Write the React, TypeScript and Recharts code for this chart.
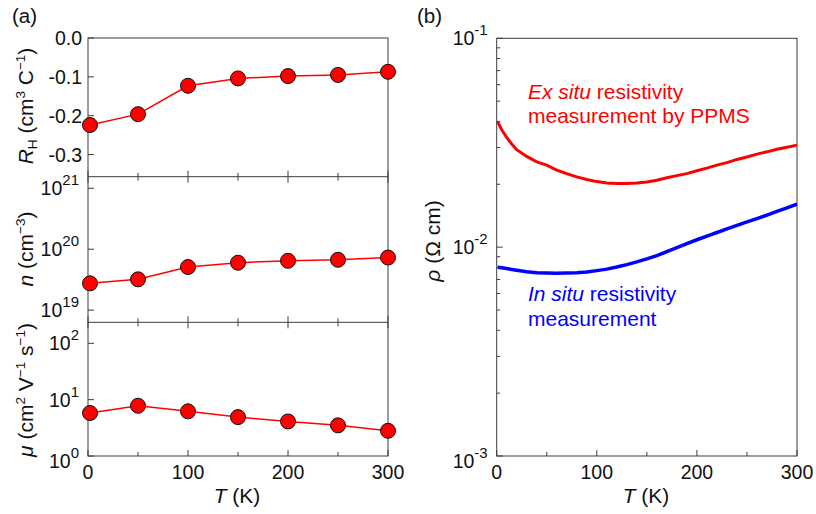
import React from 'react';
import { LineChart, Line, XAxis, YAxis } from 'recharts';

// ---------- data ----------
const hallT = [2, 50, 100, 150, 200, 250, 300];
const hallRH = [-0.224, -0.196, -0.123, -0.104, -0.098, -0.095, -0.087];
const carrierN = [2.75e19, 3.2e19, 5.1e19, 6.0e19, 6.45e19, 6.7e19, 7.3e19];
const mobilityMu = [5.8, 7.8, 6.2, 4.9, 4.1, 3.5, 2.8];

const leftXTicks = [0, 50, 100, 150, 200, 250, 300];
const rhTicks = [0, -0.1, -0.2, -0.3];
const nTicks = [1e19, 1e20, 1e21];
const muTicks = [1, 10, 100];

const rhoT = [1, 5, 10, 15, 20, 30, 40, 50, 60, 70, 80, 90, 100, 110, 120, 130, 140, 150, 160, 170, 180, 190, 200, 210, 220, 230, 240, 250, 260, 270, 280, 290, 300];
const rhoExSitu = [0.0398, 0.0365, 0.0335, 0.0312, 0.0293, 0.0272, 0.0256, 0.0247, 0.0234, 0.0225, 0.0217, 0.0211, 0.0206, 0.0203, 0.0202, 0.0202, 0.0203, 0.0205, 0.0209, 0.0215, 0.022, 0.0225, 0.0232, 0.0239, 0.0247, 0.0254, 0.0263, 0.027, 0.0279, 0.0286, 0.0294, 0.0301, 0.0308];
const rhoInSitu = [0.00802, 0.00797, 0.0079, 0.00782, 0.00775, 0.00763, 0.00755, 0.00752, 0.0075, 0.00752, 0.00755, 0.0076, 0.00772, 0.00785, 0.00803, 0.00825, 0.0085, 0.00878, 0.0091, 0.00952, 0.00995, 0.0104, 0.01085, 0.0113, 0.01175, 0.01222, 0.0127, 0.0132, 0.0137, 0.01425, 0.01482, 0.01543, 0.01607];

const rightXTicks = [0, 50, 100, 150, 200, 250, 300];
const rhoTicks = [0.001, 0.002, 0.003, 0.004, 0.005, 0.006, 0.007, 0.008, 0.009, 0.01, 0.02, 0.03, 0.04, 0.05, 0.06, 0.07, 0.08, 0.09, 0.1];

// ---------- layout ----------
const W = 816;
const H = 514;
const FONT = '"Liberation Sans", Arial, Helvetica, sans-serif';
const AXIS = '#3c3c3c';
const TXT = '#111';
const AX_W = 40;
const AX_H = 20;
const TITLE_FS = 21;

const LX0 = 88;
const LX1 = 388;
const P1T = 38;
const P1B = 176.7;
const P2T = 176.7;
const P2B = 322.3;
const P3T = 322.3;
const P3B = 456;

const RX0 = 496.7;
const RX1 = 797;
const RT = 38.3;
const RB = 456;

const hallRows = hallT.map((t, i) => ({ T: t, rh: hallRH[i], n: carrierN[i], mu: mobilityMu[i] }));
const rhoRows = rhoT.map((t, i) => ({ T: t, ex: rhoExSitu[i], ins: rhoInSitu[i] }));

const isDecade = (v: number) => Math.abs(Math.log10(v) - Math.round(Math.log10(v))) < 1e-6;

function XTick(props: any) {
  const { x, y, payload, dir, labels } = props;
  const v = payload.value;
  const major = v % 100 === 0;
  const len = major ? 6 : 4;
  const y2 = dir === 'up' ? y - len : y + len;
  return (
    <g>
      <line x1={x} x2={x} y1={y} y2={y2} stroke={AXIS} strokeWidth={1} />
      {labels && major ? (
        <text x={x} y={y + 23} textAnchor="middle" fontSize={19.5} fontFamily={FONT} fill={TXT}>
          {v}
        </text>
      ) : null}
    </g>
  );
}

function LinYTick(props: any) {
  const { x, y, payload } = props;
  const v = payload.value;
  return (
    <g>
      <line x1={x} x2={x + 6} y1={y} y2={y} stroke={AXIS} strokeWidth={1} />
      <text x={x - 6} y={y + 7} textAnchor="end" fontSize={19.5} fontFamily={FONT} fill={TXT}>
        {v.toFixed(1)}
      </text>
    </g>
  );
}

function LogYTick(props: any) {
  const { x, y, payload, shiftFirst } = props;
  const v = payload.value;
  const dec = isDecade(v);
  const len = dec ? 6 : 3.5;
  const e = Math.round(Math.log10(v));
  const dy = shiftFirst && props.index === 0 ? 5 : 0;
  const expText = e < 0 ? '-' + String(-e) : String(e);
  return (
    <g>
      <line x1={x} x2={x + len} y1={y} y2={y} stroke={AXIS} strokeWidth={1} />
      {dec ? (
        <text x={x - 9} y={y + 7 + dy} textAnchor="end" fontSize={19.5} fontFamily={FONT} fill={TXT}>
          10
          <tspan dy={-10} fontSize={15}>
            {expText}
          </tspan>
        </text>
      ) : null}
    </g>
  );
}

const dotStyle = { r: 7.5, fill: '#ff0000', stroke: '#111', strokeWidth: 1 };

function Layer({ children }: { children: React.ReactNode }) {
  return <div style={{ position: 'absolute', left: 0, top: 0 }}>{children}</div>;
}

export default function App() {
  const sup = 13.5;
  return (
    <div style={{ position: 'absolute', left: 0, top: 0, width: W, height: H, background: '#fff', overflow: 'hidden' }}>
      <svg width={W} height={H} style={{ position: 'absolute', left: 0, top: 0 }} fontFamily={FONT}>
        {/* frames */}
        <rect x={LX0} y={P1T} width={LX1 - LX0} height={P3B - P1T} fill="none" stroke={AXIS} strokeWidth={1} />
        <line x1={LX0} x2={LX1} y1={P1B} y2={P1B} stroke={AXIS} strokeWidth={1} />
        <line x1={LX0} x2={LX1} y1={P2B} y2={P2B} stroke={AXIS} strokeWidth={1} />
        <rect x={RX0} y={RT} width={RX1 - RX0} height={RB - RT} fill="none" stroke={AXIS} strokeWidth={1} />

        {/* panel letters */}
        <text x={12} y={23} fontSize={20.5} fill={TXT}>(a)</text>
        <text x={417} y={23} fontSize={20.5} fill={TXT}>(b)</text>

        {/* left titles */}
        <text transform="translate(33,106) rotate(-90)" textAnchor="middle" fontSize={TITLE_FS} fill={TXT}>
          <tspan fontStyle="italic">R</tspan>
          <tspan fontSize={sup} dy={4}>H</tspan>
          <tspan dy={-4}> (cm</tspan>
          <tspan fontSize={sup} dy={-8}>3</tspan>
          <tspan dy={8}> C</tspan>
          <tspan fontSize={sup} dy={-8}>−1</tspan>
          <tspan dy={8}>)</tspan>
        </text>
        <text transform="translate(33,249) rotate(-90)" textAnchor="middle" fontSize={TITLE_FS} fill={TXT}>
          <tspan fontStyle="italic">n</tspan>
          <tspan> (cm</tspan>
          <tspan fontSize={sup} dy={-8}>−3</tspan>
          <tspan dy={8}>)</tspan>
        </text>
        <text transform="translate(33,390) rotate(-90)" textAnchor="middle" fontSize={TITLE_FS} fill={TXT}>
          <tspan fontStyle="italic">μ</tspan>
          <tspan> (cm</tspan>
          <tspan fontSize={sup} dy={-8}>2</tspan>
          <tspan dy={8}> V</tspan>
          <tspan fontSize={sup} dy={-8}>−1</tspan>
          <tspan dy={8}> s</tspan>
          <tspan fontSize={sup} dy={-8}>−1</tspan>
          <tspan dy={8}>)</tspan>
        </text>
        <text x={237} y={503} textAnchor="middle" fontSize={TITLE_FS} fill={TXT}>
          <tspan fontStyle="italic">T</tspan>
          <tspan> (K)</tspan>
        </text>

        {/* right titles */}
        <text transform="translate(440,241) rotate(-90)" textAnchor="middle" fontSize={TITLE_FS} fill={TXT}>
          <tspan fontStyle="italic">ρ</tspan>
          <tspan> (Ω cm)</tspan>
        </text>
        <text x={646} y={503} textAnchor="middle" fontSize={TITLE_FS} fill={TXT}>
          <tspan fontStyle="italic">T</tspan>
          <tspan> (K)</tspan>
        </text>

        {/* annotations */}
        <text x={528} y={98.5} fontSize={21} fill="#ff0000">
          <tspan fontStyle="italic">Ex situ</tspan>
          <tspan> resistivity</tspan>
        </text>
        <text x={528} y={123} fontSize={21} fill="#ff0000">measurement by PPMS</text>
        <text x={528} y={300.5} fontSize={21} fill="#0000ff">
          <tspan fontStyle="italic">In situ</tspan>
          <tspan> resistivity</tspan>
        </text>
        <text x={528} y={326} fontSize={21} fill="#0000ff">measurement</text>
      </svg>

      {/* Panel a1: Hall coefficient */}
      <Layer>
        <LineChart width={W} height={H} data={hallRows} margin={{ top: P1T, right: W - LX1, bottom: H - P1B - AX_H, left: LX0 - AX_W }}>
          <XAxis dataKey="T" type="number" domain={[0, 300]} ticks={leftXTicks} interval={0} height={AX_H} axisLine={false} tickLine={false} tickSize={0} tickMargin={0} tick={(p: any) => <XTick {...p} dir="up" />} />
          <YAxis type="number" domain={[-0.357, 0]} ticks={rhTicks} interval={0} width={AX_W} axisLine={false} tickLine={false} tickSize={0} tickMargin={0} tick={(p: any) => <LinYTick {...p} />} />
          <Line dataKey="rh" type="linear" stroke="#ff0000" strokeWidth={1.5} dot={dotStyle} activeDot={false} isAnimationActive={false} />
        </LineChart>
      </Layer>

      {/* Panel a2: carrier density */}
      <Layer>
        <LineChart width={W} height={H} data={hallRows} margin={{ top: P2T - AX_H, right: W - LX1, bottom: H - P2B - AX_H, left: LX0 - AX_W }}>
          <XAxis dataKey="T" type="number" domain={[0, 300]} ticks={leftXTicks} interval={0} height={AX_H} axisLine={false} tickLine={false} tickSize={0} tickMargin={0} tick={(p: any) => <XTick {...p} dir="up" />} />
          <XAxis xAxisId="top" orientation="top" dataKey="T" type="number" domain={[0, 300]} ticks={leftXTicks} interval={0} height={AX_H} axisLine={false} tickLine={false} tickSize={0} tickMargin={0} tick={(p: any) => <XTick {...p} dir="down" />} />
          <YAxis type="number" scale="log" domain={[Math.pow(10, 18.8), Math.pow(10, 21.19)]} ticks={nTicks} interval={0} width={AX_W} axisLine={false} tickLine={false} tickSize={0} tickMargin={0} tick={(p: any) => <LogYTick {...p} />} />
          <Line dataKey="n" type="linear" stroke="#ff0000" strokeWidth={1.5} dot={dotStyle} activeDot={false} isAnimationActive={false} />
        </LineChart>
      </Layer>

      {/* Panel a3: mobility */}
      <Layer>
        <LineChart width={W} height={H} data={hallRows} margin={{ top: P3T - AX_H, right: W - LX1, bottom: H - P3B - AX_H, left: LX0 - AX_W }}>
          <XAxis dataKey="T" type="number" domain={[0, 300]} ticks={leftXTicks} interval={0} height={AX_H} axisLine={false} tickLine={false} tickSize={0} tickMargin={0} tick={(p: any) => <XTick {...p} dir="up" labels />} />
          <XAxis xAxisId="top" orientation="top" dataKey="T" type="number" domain={[0, 300]} ticks={leftXTicks} interval={0} height={AX_H} axisLine={false} tickLine={false} tickSize={0} tickMargin={0} tick={(p: any) => <XTick {...p} dir="down" />} />
          <YAxis type="number" scale="log" domain={[1, Math.pow(10, 2.373)]} ticks={muTicks} interval={0} width={AX_W} axisLine={false} tickLine={false} tickSize={0} tickMargin={0} tick={(p: any) => <LogYTick {...p} shiftFirst />} />
          <Line dataKey="mu" type="linear" stroke="#ff0000" strokeWidth={1.5} dot={dotStyle} activeDot={false} isAnimationActive={false} />
        </LineChart>
      </Layer>

      {/* Panel b: resistivity */}
      <Layer>
        <LineChart width={W} height={H} data={rhoRows} margin={{ top: RT, right: W - RX1, bottom: H - RB - AX_H, left: RX0 - AX_W }}>
          <XAxis dataKey="T" type="number" domain={[0, 300]} ticks={rightXTicks} interval={0} height={AX_H} axisLine={false} tickLine={false} tickSize={0} tickMargin={0} tick={(p: any) => <XTick {...p} dir="up" labels />} />
          <YAxis type="number" scale="log" domain={[0.001, 0.1]} ticks={rhoTicks} interval={0} width={AX_W} axisLine={false} tickLine={false} tickSize={0} tickMargin={0} tick={(p: any) => <LogYTick {...p} shiftFirst />} />
          <Line dataKey="ex" type="linear" stroke="#ff0000" strokeWidth={3} dot={false} activeDot={false} isAnimationActive={false} />
          <Line dataKey="ins" type="linear" stroke="#0000ff" strokeWidth={3.5} dot={false} activeDot={false} isAnimationActive={false} />
        </LineChart>
      </Layer>
    </div>
  );
}
